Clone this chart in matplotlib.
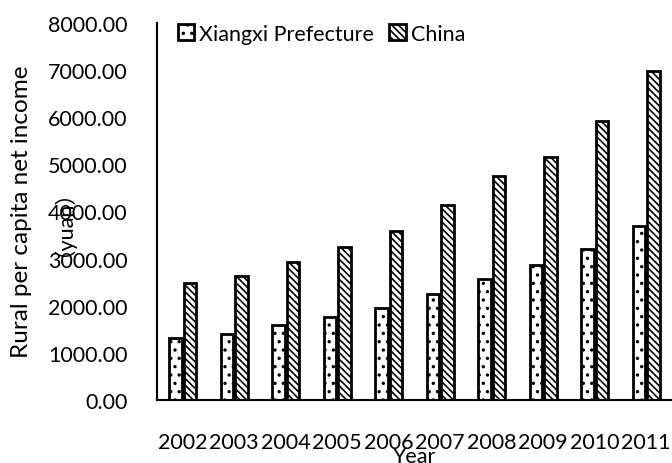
import matplotlib.pyplot as plt
import numpy as np

plt.rcParams['font.family'] = ['Lato', 'Noto Sans CJK SC', 'DejaVu Sans']
plt.rcParams['hatch.linewidth'] = 1.2

years = ['2002', '2003', '2004', '2005', '2006', '2007', '2008', '2009', '2010', '2011']
xiangxi = [1320, 1405, 1595, 1765, 1960, 2257, 2575, 2875, 3195, 3690]
china = [2476, 2622, 2936, 3255, 3587, 4140, 4761, 5153, 5919, 6977]

fig = plt.figure(figsize=(6.72, 4.64), dpi=100)
ax = fig.add_axes([157 / 672, 1 - 401 / 464, 1 - 157 / 672, (401 - 24) / 464])

x = np.arange(len(years))
w = 0.245
ax.bar(x - 0.14, xiangxi, w, color='white', edgecolor='black', linewidth=2,
       hatch='..', label='Xiangxi Prefecture')
ax.bar(x + 0.14, china, w, color='white', edgecolor='black', linewidth=2,
       hatch='\\\\\\\\\\', label='China')

ax.set_xlim(-0.5, 9.5)
ax.set_ylim(0, 8000)
ax.set_yticks(np.arange(0, 8001, 1000))
ax.set_yticklabels(['%.2f' % v for v in np.arange(0, 8001, 1000)])
ax.set_xticks(x)
ax.set_xticklabels(years)
ax.tick_params(axis='both', length=0, labelsize=15.5)
ax.tick_params(axis='y', pad=21)
ax.tick_params(axis='x', pad=23)
for s in ['top', 'right']:
    ax.spines[s].set_visible(False)
ax.spines['left'].set_linewidth(1.5)
ax.spines['bottom'].set_linewidth(1.5)

fig.text(414 / 672, 1 - 457 / 464, 'Year', ha='center', va='center', fontsize=15.5)
fig.text(22 / 672, 1 - 212 / 464, 'Rural per capita net income', rotation=90,
         ha='center', va='center', fontsize=17.5)
fig.text(52 / 672, 1 - 213 / 464, '（yuan）', rotation=90,
         ha='center', va='center', fontsize=15.5)

ax.legend(loc='upper left', bbox_to_anchor=(0.003, 1.05), ncol=2, frameon=False,
          fontsize=15.5, handlelength=0.75, handleheight=0.75, handletextpad=0.25,
          columnspacing=0.7)

fig.savefig('out.png', dpi=100)
